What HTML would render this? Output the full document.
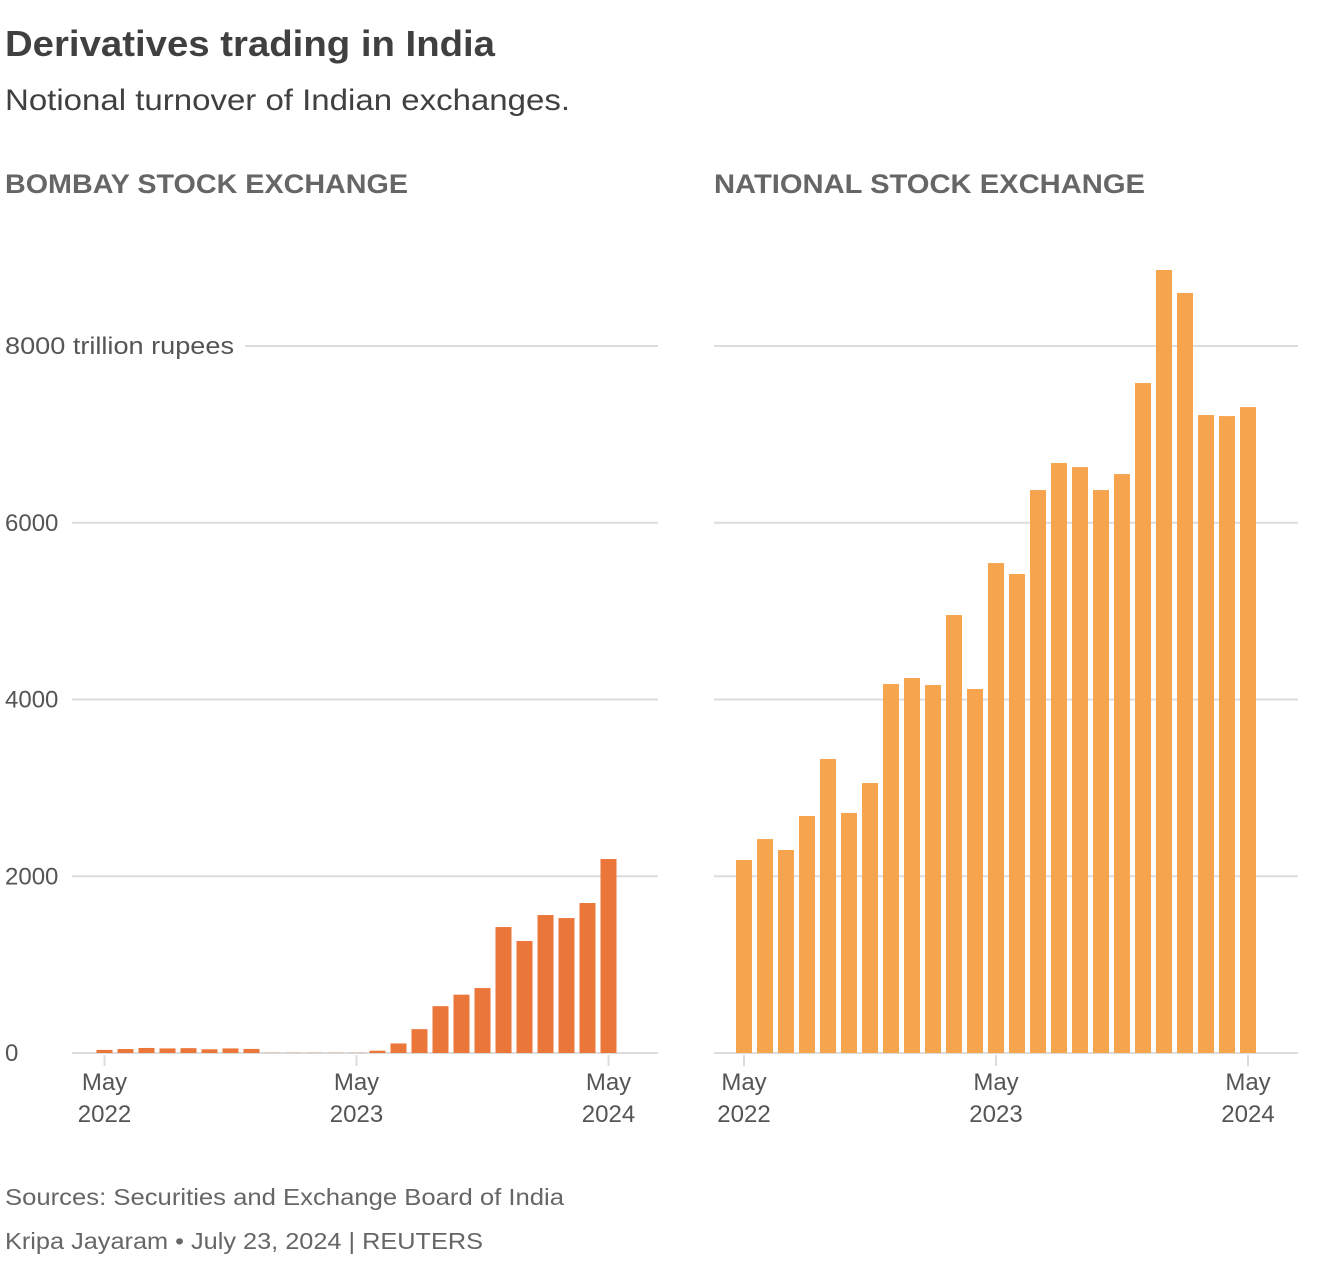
<!DOCTYPE html>
<html><head><meta charset="utf-8"><style>
body{margin:0;background:#fff;width:1320px;height:1260px;overflow:hidden;font-family:"Liberation Sans",sans-serif}
svg text{font-family:"Liberation Sans",sans-serif}
</style></head><body>
<svg width="1320" height="1260">
<text x="5" y="56" font-size="36" font-weight="bold" fill="#404040" textLength="490" lengthAdjust="spacingAndGlyphs">Derivatives trading in India</text>
<text x="5" y="110" font-size="30" fill="#404040" textLength="565" lengthAdjust="spacingAndGlyphs">Notional turnover of Indian exchanges.</text>
<text x="5" y="193" font-size="27" font-weight="bold" fill="#666" textLength="403" lengthAdjust="spacingAndGlyphs">BOMBAY STOCK EXCHANGE</text>
<text x="714" y="193" font-size="27" font-weight="bold" fill="#666" textLength="431" lengthAdjust="spacingAndGlyphs">NATIONAL STOCK EXCHANGE</text>
<g id="g"></g>
<text x="5" y="1205" font-size="23" fill="#666" textLength="559" lengthAdjust="spacingAndGlyphs">Sources: Securities and Exchange Board of India</text>
<text x="5" y="1249" font-size="23" fill="#666" textLength="478" lengthAdjust="spacingAndGlyphs">Kripa Jayaram • July 23, 2024 | REUTERS</text>
</svg>
<script>
const months=["May 2022","Jun 2022","Jul 2022","Aug 2022","Sep 2022","Oct 2022","Nov 2022","Dec 2022","Jan 2023","Feb 2023","Mar 2023","Apr 2023","May 2023","Jun 2023","Jul 2023","Aug 2023","Sep 2023","Oct 2023","Nov 2023","Dec 2023","Jan 2024","Feb 2024","Mar 2024","Apr 2024","May 2024"];
const bseValues=[35,45,57,52,55,42,52,46,5,5,5,5,5,26,108,270,530,660,735,1425,1267,1561,1527,1697,2195];
const nseValues=[2184,2421,2297,2682,3327,2716,3055,4175,4243,4164,4956,4119,5544,5420,6370,6676,6630,6370,6551,7581,8860,8600,7219,7207,7309];
const yTicks=[0,2000,4000,6000,8000];
const xTickIdx=[0,12,24];
const xTickLabels=[["May","2022"],["May","2023"],["May","2024"]];
const NS="http://www.w3.org/2000/svg";
const g=document.getElementById('g');
function el(t,a,txt){const e=document.createElementNS(NS,t);for(const k in a)e.setAttribute(k,a[k]);if(txt!=null)e.textContent=txt;g.appendChild(e);return e;}
const y=v=>1053-v*(707/8000);
function panel(name,x0,x1,xFirst,values,color,labels){
  yTicks.forEach((t,i)=>{
    let gx0=x0;
    if(labels){
      const last=i===yTicks.length-1;
      const lab=last?t+" trillion rupees":""+t;
      const attrs={x:5,y:y(t)+8,'font-size':24,fill:'#555'};
      if(last){attrs.textLength=229;attrs.lengthAdjust='spacingAndGlyphs';}
      const tx=el('text',attrs,lab);
      
      
      gx0= last?245:72;
    }
    const ln=el('line',{x1:gx0,x2:x1,y1:y(t),y2:y(t),stroke:'#dcdcdc','stroke-width':2});
    
    
  });
  const step=21.0;
  values.forEach((v,i)=>{
    const cx=xFirst+i*step;
    const r=el('rect',{x:cx-8,y:y(v),width:16,height:Math.max(0.6,1053-y(v)),fill:color,opacity:v<10?0.35:1});
    
    
  });
  xTickIdx.forEach((idx,k)=>{
    const cx=xFirst+idx*step;
    const tk=el('line',{x1:cx,x2:cx,y1:1055,y2:1066,stroke:'#dcdcdc','stroke-width':2});
    
    
    const t1=el('text',{x:cx,y:1090,'font-size':24,fill:'#555','text-anchor':'middle'},xTickLabels[k][0]);
    
    
    const t2=el('text',{x:cx,y:1122,'font-size':24,fill:'#555','text-anchor':'middle'},xTickLabels[k][1]);
    
    
  });
}
panel('bse',72,658,104.5,bseValues,'#eb763a',true);
panel('nse',714,1298,744,nseValues,'#f6a54e',false);
</script>
</body></html>
